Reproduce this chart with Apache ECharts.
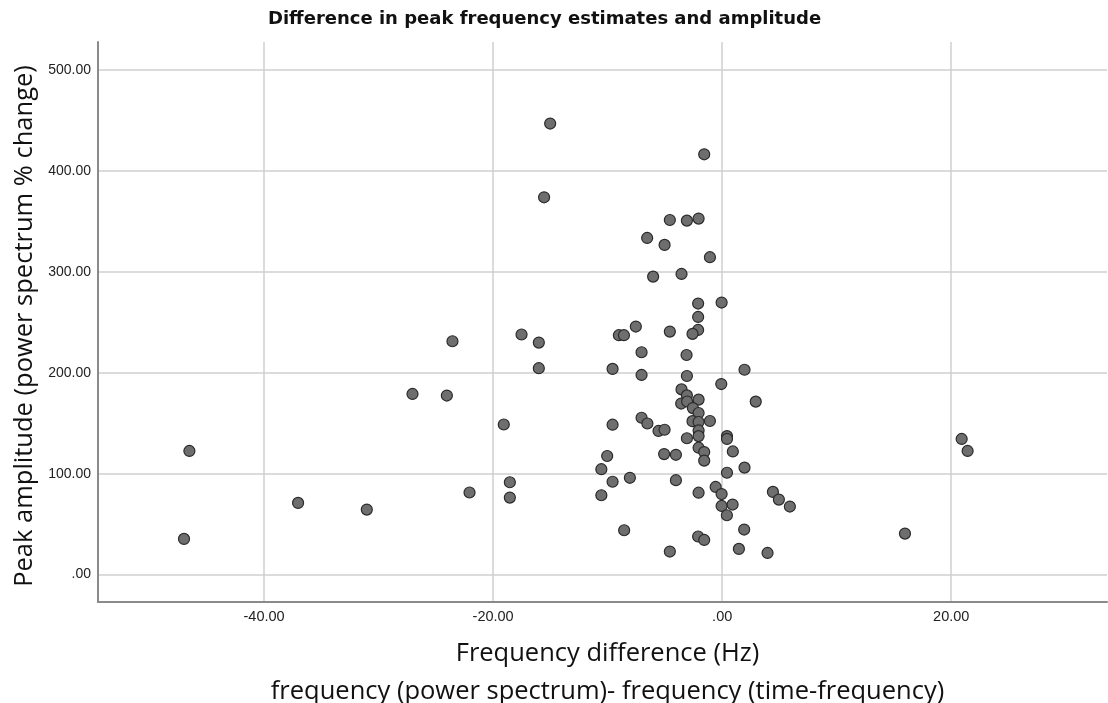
<!DOCTYPE html>
<html>
<head>
<meta charset="utf-8">
<script src="https://cdn.jsdelivr.net/npm/echarts@6/dist/echarts.min.js"></script>
<style>
html,body{margin:0;padding:0;background:#fff;}
#chart{width:1108px;height:703px;}
</style>
</head>
<body>
<div id="chart"></div>
<script>
// Frequency difference (Hz)
const freqDiff = [
  -15.02, -1.57, -15.55, -4.57, -3.08, -2.06, -6.55, -5.03, -1.07, -6.03,
  -3.55, -2.10, -0.05, -2.10, -7.54, -4.57, -2.10, -2.59, -9.02, -8.58,
  -7.04, -3.11, -9.57, -7.04, -3.08, 1.95, -0.08, -3.55, -3.08, -3.58,
  -3.06, -2.06, -2.56, -2.06, 2.93, -7.04, -6.53, -9.57, -5.56, -5.03,
  -2.59, -2.06, -1.07, -2.06, -2.06, -3.08, 0.42, 0.42, -2.06, -1.57,
  -1.57, 0.93, -10.04, -5.07, -4.04, -10.55, -9.57, -8.06, -10.55, 1.95,
  0.42, -4.04, -0.57, -2.06, -0.05, -0.05, 0.91, 0.41, 4.43, 4.95,
  5.91, -8.56, 1.92, -2.10, -1.57, -4.57, 1.46, 3.96,
  -23.55, -17.52, -16.01, -16.01, -27.04, -24.04, -19.07, -18.54, -22.06, -18.54,
  -46.52, -46.99, -37.03, -31.03,
  20.91, 21.43, 15.96
];
// Peak amplitude (power spectrum % change)
const peakAmp = [
  447.0, 416.5, 373.9, 351.4, 350.8, 352.8, 333.6, 326.7, 314.5, 295.3,
  297.9, 268.6, 269.6, 255.3, 245.8, 240.8, 242.4, 238.5, 237.2, 237.2,
  220.3, 217.6, 203.8, 197.8, 196.8, 203.0, 188.8, 183.5, 177.6, 169.5,
  171.5, 173.4, 165.0, 160.1, 171.4, 155.4, 149.7, 148.5, 142.3, 143.5,
  152.0, 151.2, 152.2, 142.8, 137.2, 135.1, 137.2, 134.4, 125.7, 121.4,
  112.9, 122.0, 117.5, 119.4, 118.7, 104.4, 92.0, 95.9, 78.6, 106.0,
  100.9, 93.5, 86.8, 81.1, 79.8, 68.0, 69.4, 58.8, 81.9, 74.3,
  67.4, 43.9, 44.6, 37.7, 34.3, 22.8, 25.4, 21.4,
  231.2, 237.9, 229.9, 204.5, 179.0, 177.4, 148.7, 91.5, 81.3, 76.3,
  122.5, 35.3, 71.0, 64.4,
  134.4, 122.5, 40.6
];
const xTicks = [-40, -20, 0, 20];
const yTicks = [0, 100, 200, 300, 400, 500];

const points = freqDiff.map((x, i) => [x, peakAmp[i]]);

function fmt(v) {
  let s = Number(v).toFixed(2);
  if (s.startsWith('0.')) s = s.slice(1);
  else if (s.startsWith('-0.')) s = '-' + s.slice(2);
  return s;
}

const chart = echarts.init(document.getElementById('chart'), null, {renderer: 'canvas'});
chart.setOption({
  backgroundColor: '#ffffff',
  animation: false,
  title: {
    text: 'Difference in peak frequency estimates and amplitude',
    left: 263,
    top: 5,
    textStyle: {
      fontFamily: 'DejaVu Sans, sans-serif',
      fontWeight: 'bold',
      fontSize: 18,
      color: '#111'
    }
  },
  grid: {
    left: 98,
    top: 42,
    right: 1,
    bottom: 101,
    containLabel: false,
    outerBoundsMode: 'none'
  },
  xAxis: {
    type: 'value',
    min: -54.5,
    max: 33.6,
    name: 'Frequency difference (Hz)\nfrequency (power spectrum)- frequency (time-frequency)',
    nameLocation: 'middle',
    nameGap: 33,
    nameTextStyle: {
      fontFamily: 'Open Sans, Noto Sans, sans-serif',
      fontSize: 25.5,
      color: '#111',
      lineHeight: 38,
      verticalAlign: 'top',
      padding: [0, 0, 0, 10]
    },
    axisLine: {show: true, onZero: false, lineStyle: {color: '#8a8a8a', width: 2}},
    axisTick: {show: false, customValues: xTicks},
    axisLabel: {
      customValues: xTicks,
      formatter: fmt,
      margin: 7,
      fontFamily: 'Liberation Sans, Arial, sans-serif',
      fontSize: 14.5,
      color: '#222'
    },
    splitLine: {show: true, lineStyle: {color: '#cfcfcf', width: 1.5}}
  },
  yAxis: {
    type: 'value',
    min: -27.2,
    max: 527.8,
    name: 'Peak amplitude (power spectrum % change)',
    nameLocation: 'middle',
    nameGap: 50,
    nameRotate: 90,
    nameTextStyle: {
      fontFamily: 'Open Sans, Noto Sans, sans-serif',
      fontSize: 25.5,
      color: '#111',
      padding: [0, 8, 0, 0]
    },
    axisLine: {show: true, onZero: false, lineStyle: {color: '#8a8a8a', width: 2}},
    axisTick: {show: false, customValues: yTicks},
    axisLabel: {
      customValues: yTicks,
      formatter: fmt,
      margin: 7,
      fontFamily: 'Liberation Sans, Arial, sans-serif',
      fontSize: 14,
      color: '#222'
    },
    splitLine: {show: true, lineStyle: {color: '#cfcfcf', width: 1.5}}
  },
  series: [{
    type: 'scatter',
    data: points,
    symbol: 'circle',
    symbolSize: 11,
    itemStyle: {
      color: '#6e6e6e',
      borderColor: '#2a2a2a',
      borderWidth: 1.2,
      opacity: 1
    }
  }]
});
</script>
</body>
</html>
